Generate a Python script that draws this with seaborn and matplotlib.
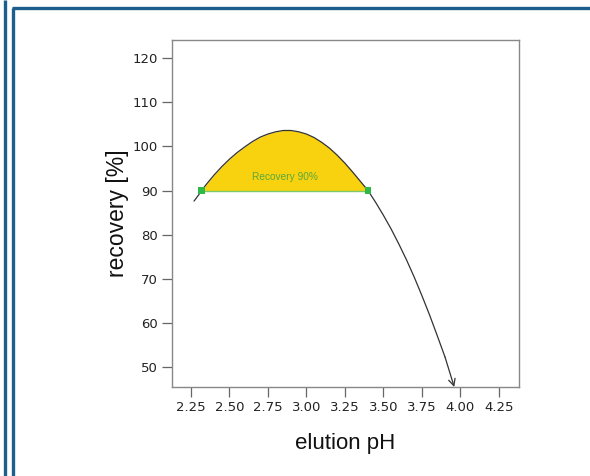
import matplotlib
matplotlib.use("Agg")
import matplotlib.pyplot as plt
from matplotlib.lines import Line2D
import seaborn as sns
import pandas as pd

# data
ph = [2.27, 2.30, 2.32, 2.35, 2.40, 2.45, 2.50, 2.55, 2.60, 2.65, 2.70, 2.75,
      2.80, 2.85, 2.90, 2.95, 3.00, 3.05, 3.10, 3.15, 3.20, 3.25, 3.30, 3.35,
      3.40, 3.45, 3.50, 3.55, 3.60, 3.65, 3.70, 3.75, 3.80, 3.85, 3.90, 3.96]
recovery = [87.6, 89.0, 90.0, 91.4, 93.5, 95.4, 97.1, 98.6, 99.9, 101.1, 102.1, 102.8,
            103.3, 103.6, 103.6, 103.3, 102.8, 102.0, 100.9, 99.6, 98.0, 96.2, 94.2, 92.1,
            90.0, 87.3, 84.4, 81.3, 77.9, 74.3, 70.4, 66.2, 61.8, 57.1, 52.3, 45.5]
threshold = 90
bounds_ph = [2.32, 3.40]
label_text = "Recovery 90%"
x_ticks = [2.25, 2.50, 2.75, 3.00, 3.25, 3.50, 3.75, 4.00, 4.25]
y_ticks = [50, 60, 70, 80, 90, 100, 110, 120]

df = pd.DataFrame({"ph": ph, "recovery": recovery})

sns.set_theme(style="white")
plt.rcParams["font.family"] = ["Liberation Sans", "DejaVu Sans"]

fig = plt.figure(figsize=(5.9, 4.76), dpi=100)
ax = fig.add_axes([0.2915, 0.187, 0.588, 0.729])

inside = df[(df.ph >= bounds_ph[0]) & (df.ph <= bounds_ph[1])]
ax.fill_between(inside.ph, threshold, inside.recovery, color="#f8d20e",
                zorder=1, linewidth=0)
ax.plot(bounds_ph, [threshold, threshold], color="#7cc86a", lw=1.0, zorder=2)

sns.lineplot(data=df.iloc[:-1], x="ph", y="recovery", ax=ax, color="#333333",
             lw=0.9, zorder=3, sort=False)
ax.annotate("", xy=(df.ph.iloc[-1], df.recovery.iloc[-1]),
            xytext=(df.ph.iloc[-2], df.recovery.iloc[-2]),
            arrowprops=dict(arrowstyle="->", color="#333333", lw=0.9,
                            mutation_scale=12, shrinkA=0, shrinkB=0))

sns.scatterplot(x=bounds_ph, y=[threshold, threshold], ax=ax, marker="s",
                s=22, color="#2fb84a", edgecolor="none", zorder=4)
ax.text(sum(bounds_ph) / 2, 93.0, label_text, color="#5aa83c", fontsize=7.3,
        ha="center", va="center", zorder=5)

ax.set_xlim(2.127, 4.38)
ax.set_ylim(45.5, 124.1)
ax.set_xticks(x_ticks)
ax.set_xticklabels([f"{t:.2f}" for t in x_ticks], family="DejaVu Sans")
ax.set_yticks(y_ticks)
ax.set_yticklabels([str(t) for t in y_ticks], family="DejaVu Sans")
ax.tick_params(axis="both", which="both", direction="out", length=7, width=0.9,
               color="#666666", labelsize=9.5, labelcolor="#222222",
               bottom=True, left=True, pad=3)
for s in ax.spines.values():
    s.set_color("#888888")
    s.set_linewidth(1.0)
ax.set_xlabel("elution pH", fontsize=16, color="#111111", labelpad=14)
ax.set_ylabel("recovery [%]", fontsize=16.5, color="#111111", labelpad=3)

# decorative blue border
W, H = 590, 476
def fl(x0, y0, x1, y1):
    fig.add_artist(Line2D([x0 / W, x1 / W], [1 - y0 / H, 1 - y1 / H],
                          transform=fig.transFigure, color="#1d5f8c", lw=2.4,
                          solid_capstyle="butt"))
fl(4.5, 0, 4.5, H)
fl(12.5, 7.5, 12.5, H)
fl(11.5, 7.5, W, 7.5)

fig.savefig("out.png", dpi=100)
